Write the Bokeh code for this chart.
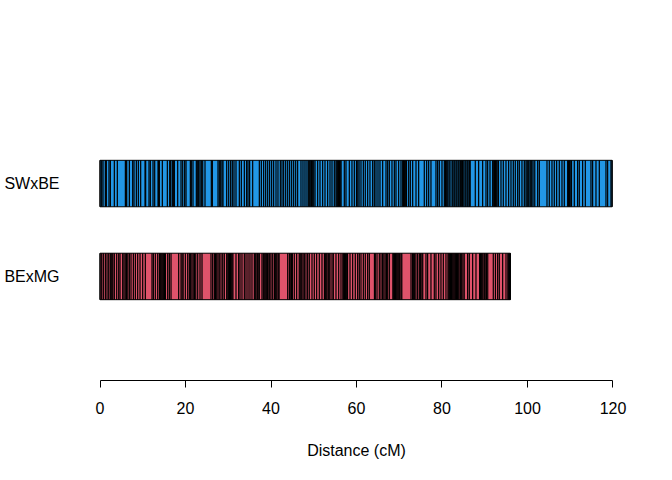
from bokeh.plotting import figure
from bokeh.models import Range1d, FixedTicker
from bokeh.embed import file_html
from bokeh.resources import INLINE

maps = ["BExMG", "SWxBE"]
map_y = [1, 2]
map_colors = ["#DF536B", "#2297E6"]
map_lengths = [96.0, 119.8]
x_ticks = [0, 20, 40, 60, 80, 100, 120]

swxbe_pos = [
    0.0, 0.39, 0.70, 1.25, 1.48, 2.10, 2.42, 3.35, 4.05, 5.93, 6.08, 6.24, 6.86, 7.64, 7.95, 8.50, 8.97, 9.51,
    10.53, 10.68, 11.46, 11.77, 12.40, 12.79, 13.57, 13.72, 13.88, 14.58, 15.75, 16.30, 16.53, 16.92, 17.23,
    17.39, 18.17, 18.95, 19.34, 19.80, 20.12, 21.13, 21.36, 21.75, 22.53, 22.85, 23.08, 23.39, 23.70, 24.02,
    24.56, 26.04, 26.28, 27.60, 27.91, 28.23, 28.54, 28.77, 29.63,
    30.10, 30.56, 30.95, 31.34, 31.81, 32.59, 33.06, 33.76, 34.30, 34.62, 35.00, 35.71, 37.27, 37.74, 38.28,
    38.75, 39.22, 39.68, 40.15, 40.62, 41.17, 41.63, 42.18, 42.57, 42.96, 43.43, 43.90, 44.36, 44.83, 45.30,
    45.77, 46.23, 47.01, 47.48, 47.95, 48.42, 48.81, 49.05, 49.30, 49.50, 49.75, 50.00, 50.30, 50.91, 51.46,
    52.08, 52.63, 53.25, 53.80, 54.27, 54.81, 55.20, 55.40, 55.60, 55.80, 56.00, 56.20, 56.40, 57.15, 57.54,
    58.32, 58.94, 59.49,
    60.00, 60.30, 60.60, 61.05, 61.60, 62.06, 62.61, 63.15, 63.78, 64.17, 64.56, 65.03, 65.49, 66.12, 66.90,
    67.29, 67.68, 68.30, 68.85, 69.24, 69.86, 70.41, 70.80, 71.00, 71.20, 71.50, 71.70, 72.20, 72.59, 73.14,
    73.92, 74.54, 75.86, 76.41, 76.88, 77.42, 78.59, 78.98, 79.37, 80.00, 80.55, 80.80, 81.00, 81.20, 81.40,
    81.70, 82.10, 82.50, 82.80, 83.00, 83.30, 83.50, 83.80, 84.00, 84.30, 84.60, 84.80, 85.10, 85.40, 85.60,
    85.90, 86.10, 86.40, 86.60, 87.79, 88.57, 89.51, 90.29,
    90.68, 91.23, 91.85, 92.10, 92.30, 92.50, 92.70, 92.90, 93.20, 93.80, 94.34, 94.97, 95.59, 96.14, 96.68,
    97.15, 97.70, 98.09, 98.71, 99.26, 99.65, 99.90, 100.10, 100.30, 100.60, 100.80, 101.00, 101.30, 101.70,
    102.38, 102.77, 104.56, 105.10, 105.73, 106.27, 106.82, 107.44, 108.07, 108.61, 109.40, 109.60, 109.80,
    110.00, 110.30, 110.95, 111.73, 112.12, 112.90, 113.53, 114.85, 115.24, 116.02, 116.80, 118.36, 118.75,
    119.53, 119.80,
]

bexmg_pos = [
    0.0, 0.39, 0.78, 1.25, 1.64, 2.03, 2.40, 2.60, 2.80, 3.00, 3.35, 3.90, 4.37, 4.68, 5.30, 5.60, 5.90, 6.20,
    6.50, 6.86, 7.25, 7.80, 8.27, 8.81, 9.36, 9.98, 10.60, 12.16, 12.48, 12.94, 13.49, 13.90, 14.10, 14.30,
    14.50, 14.70, 14.90, 15.10, 15.30, 15.83, 16.22, 16.61, 18.40, 18.95, 19.20, 19.45, 19.96, 20.51, 20.90,
    21.20, 21.50, 21.80, 22.10, 22.40, 22.85, 23.39, 23.86, 25.96, 26.35, 26.75, 27.00, 27.30, 27.60, 27.90,
    28.30, 28.70, 29.08, 29.63,
    29.90, 30.10, 30.30, 30.50, 30.70, 30.90, 31.10, 31.81, 32.43, 32.75, 33.21, 33.76, 34.15, 34.62, 35.08,
    35.55, 36.10, 36.30, 36.50, 36.80, 37.00, 37.27, 37.89, 38.20, 38.40, 38.60, 38.80, 39.00, 39.20, 39.50,
    39.70, 40.00, 40.39, 40.80, 41.00, 41.20, 41.40, 41.70, 41.90, 43.90, 44.30, 44.50, 44.80, 45.00, 45.45,
    46.00, 46.60, 46.80, 47.00, 47.20, 47.50, 47.80, 48.18, 48.57, 48.96, 49.59, 50.13, 50.68, 51.30, 51.93,
    52.50, 52.70, 52.90, 53.10, 53.40, 53.60, 53.80, 54.27, 54.58, 55.20, 55.83, 56.37, 56.80, 57.00, 57.20,
    57.40, 57.70, 57.90, 58.48, 59.10, 59.72, 60.27, 60.66,
    61.05, 61.60, 62.06, 62.61, 63.00, 64.20, 64.40, 64.80, 65.34, 65.73, 66.10, 66.40, 66.70, 67.00, 67.29,
    67.68, 68.50, 68.70, 68.90, 69.10, 69.30, 69.50, 69.70, 69.90, 70.10, 70.40, 70.60, 72.75, 73.10, 73.30,
    73.60, 73.90, 74.30, 74.70, 75.00, 75.30, 75.50, 76.25, 76.64, 77.42, 78.20, 78.59, 79.22, 79.76, 80.31,
    80.93, 81.40, 81.60, 81.80, 82.00, 82.20, 82.40, 82.60, 82.80, 83.00, 83.20, 83.40, 83.60, 83.80, 84.00,
    84.30, 84.60, 84.90, 85.20, 86.00, 86.39, 87.17, 87.95, 88.80, 89.00, 89.20, 89.40, 89.60, 89.90, 90.10,
    90.40, 90.70, 92.00, 92.50, 93.02, 93.41, 94.19, 94.97, 95.40, 95.60, 95.80, 96.00,
]

FONT = "Liberation Sans"
BAR_HALF = 0.25

p = figure(frame_width=554, frame_height=301, output_backend="svg", toolbar_location=None,
           x_range=Range1d(-4.8, 124.8), y_range=Range1d(-0.12, 3.12),
           min_border_left=79, min_border_right=23, min_border_top=79, min_border_bottom=84)
p.outline_line_color = None
p.xgrid.visible = False
p.ygrid.visible = False
p.background_fill_color = "white"
p.border_fill_color = "white"

# bars
p.hbar(y=map_y, left=0, right=map_lengths, height=2 * BAR_HALF,
       fill_color=map_colors, line_color="black", line_width=1)

# marker lines
for pos, yc in ((bexmg_pos, 1), (swxbe_pos, 2)):
    p.segment(x0=pos, y0=[yc - BAR_HALF] * len(pos), x1=pos, y1=[yc + BAR_HALF] * len(pos),
              line_color="black", line_width=1.2, line_alpha=1.0)

# x axis
xa = p.xaxis[0]
xa.ticker = FixedTicker(ticks=x_ticks)
xa.bounds = (0, 120)
xa.axis_line_color = "black"
xa.major_tick_in = 0
xa.major_tick_out = 7
xa.minor_tick_line_color = None
xa.major_label_text_font = FONT
xa.major_label_text_font_size = "16px"
xa.major_label_text_color = "black"
xa.major_label_standoff = 14
xa.axis_label = "Distance (cM)"
xa.axis_label_text_font = FONT
xa.axis_label_text_font_size = "16px"
xa.axis_label_text_font_style = "normal"
xa.axis_label_text_color = "black"
xa.axis_label_standoff = 25

# y axis (map names)
ya = p.yaxis[0]
ya.ticker = FixedTicker(ticks=map_y)
ya.major_label_overrides = {y: name for y, name in zip(map_y, maps)}
ya.axis_line_color = None
ya.major_tick_line_color = None
ya.minor_tick_line_color = None
ya.major_tick_in = 0
ya.major_tick_out = 0
ya.minor_tick_out = 0
ya.major_label_text_font = FONT
ya.major_label_text_font_size = "16px"
ya.major_label_text_color = "black"
ya.major_label_standoff = 20

open("out.html", "w").write(file_html(p, INLINE))
